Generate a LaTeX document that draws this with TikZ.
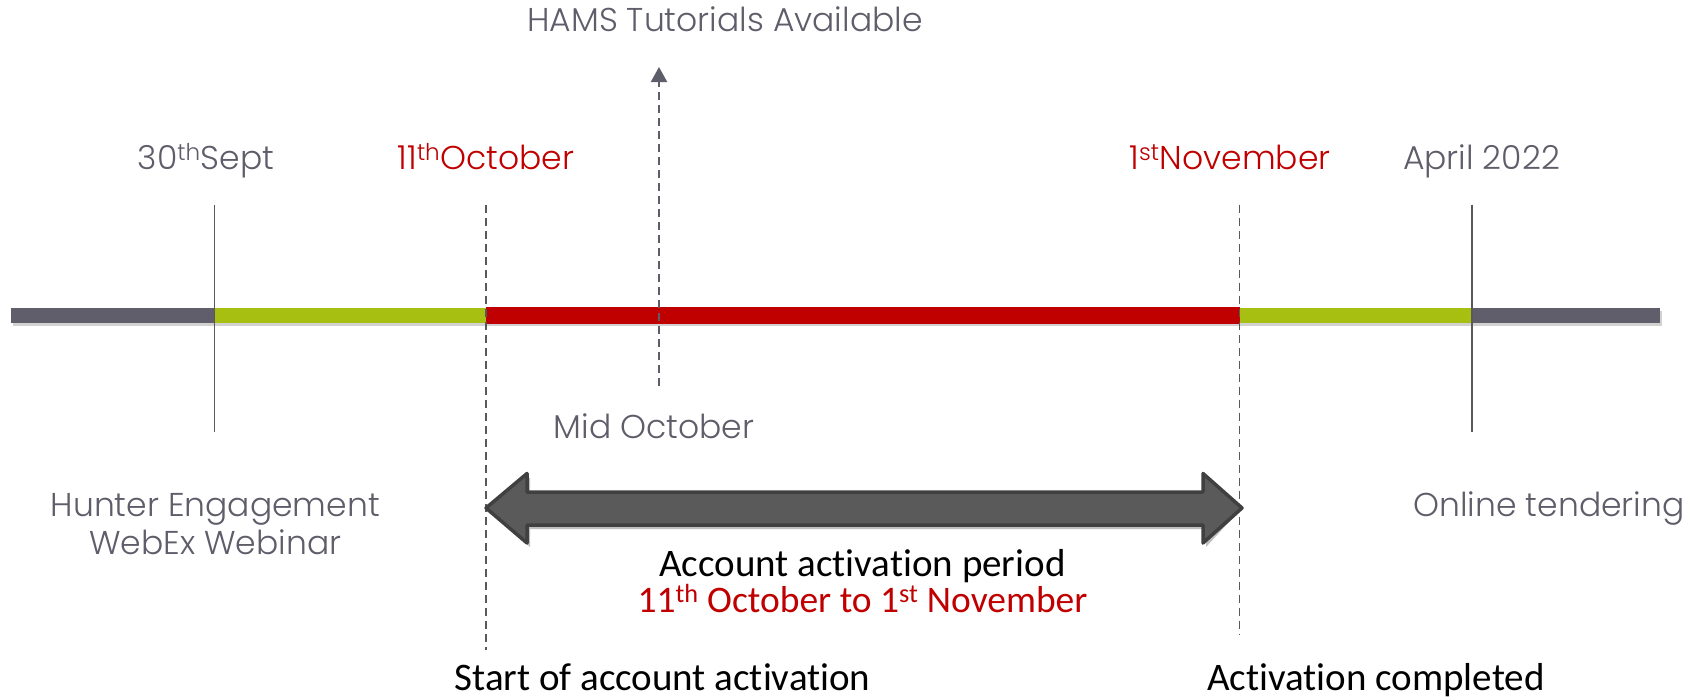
\documentclass[tikz,border=0pt]{standalone}
\usepackage{fontspec}
\setmainfont{Poppins Light}
\newfontfamily\calfont{Carlito}[Ligatures=NoCommon]
\usetikzlibrary{arrows.meta}
\definecolor{txtgrey}{HTML}{5E5D6A}
\definecolor{bargrey}{HTML}{605E6B}
\definecolor{bargreen}{HTML}{A6BF10}
\definecolor{barred}{HTML}{C00000}
\definecolor{linegrey}{HTML}{595959}
\definecolor{arrowfill}{HTML}{5A5A5A}
\definecolor{arrowdraw}{HTML}{404040}
\begin{document}
\begin{tikzpicture}[x=1pt,y=-1pt,
  lbl/.style={text=txtgrey, font=\fontsize{33}{38}\selectfont, inner sep=0pt, anchor=base},
  redlbl/.style={lbl, text=barred},
  cal/.style={font=\calfont\fontsize{39}{43}\selectfont, inner sep=0pt, anchor=base, text=black},
  seg/.style={line width=15.5pt},
  vsolid/.style={draw=linegrey, line width=1.8pt},
  vdash/.style={draw=linegrey, line width=1.8pt, dash pattern=on 8pt off 5pt},
]
\useasboundingbox (0,0) rectangle (1705,699);

% timeline points
\coordinate (b0) at (11,315.5);
\coordinate (b1) at (214.5,315.5);
\coordinate (b2) at (486,315.5);
\coordinate (b3) at (1239.5,315.5);
\coordinate (b4) at (1472,315.5);
\coordinate (b5) at (1660,315.5);

% bar shadow
\draw[line width=15.5pt, black, opacity=0.18] ([shift={(2,3)}]b0) -- ([shift={(2,3)}]b5);
% bar segments
\draw[seg, bargrey] (b0) -- (b1);
\draw[seg, bargreen] (b1) -- (b2);
\draw[seg, barred, line width=16.5pt] (b2) -- (b3);
\draw[seg, bargreen] (b3) -- (b4);
\draw[seg, bargrey] (b4) -- (b5);

% vertical markers
\coordinate (s1t) at (214.5,204.5); \coordinate (s1b) at (214.5,431.5);
\coordinate (s2t) at (1472,204.5);  \coordinate (s2b) at (1472,431.5);
\coordinate (d1t) at (486,204.5);   \coordinate (d1b) at (486,650);
\coordinate (d2t) at (1239.5,204.5);\coordinate (d2b) at (1239.5,634);
\draw[vsolid] (s1t) -- (s1b);
\draw[vsolid] (s2t) -- (s2b);
\draw[vdash] (d1t) -- (d1b);
\draw[vdash] (d2t) -- (d2b);

% mid-october arrow
\coordinate (mt) at (659,67);
\coordinate (mb) at (659,386);
\draw[vdash, draw=txtgrey, line width=2.2pt, -{Triangle[width=16pt,length=15pt]}] (mb) -- (mt);

% labels
\node[lbl] (hams) at (725,31.7) {HAMS Tutorials Available};
\node[lbl] (sept) at (206,169.6) {30\textsuperscript{th}Sept};
\node[redlbl] (oct) at (486,169.6) {11\textsuperscript{th}October};
\node[redlbl] (nov) at (1230,169.6) {1\textsuperscript{st}November};
\node[lbl] (apr) at (1481.5,169.6) {April 2022};
\node[lbl] (mid) at (654,438) {Mid October};
\node[lbl] (hunter1) at (215.3,516.7) {Hunter Engagement};
\node[lbl] (hunter2) at (215.3,554) {WebEx Webinar};
\node[lbl] (online) at (1549,516.7) {Online tendering};

% double arrow
\coordinate (aL) at (486,508);
\coordinate (aR) at (1242,508);
\fill[black, opacity=0.25, line join=round, shift={(3,4)}]
  (aL) -- (527,473.5) -- (527,492) -- (1203,492) -- (1203,473.5) -- (aR)
  -- (1203,543) -- (1203,525) -- (527,525) -- (527,543) -- cycle;
\path[draw=arrowdraw, fill=arrowfill, line width=3.5pt, line join=round]
  (aL) -- (527,473.5) -- (527,492) -- (1203,492) -- (1203,473.5) -- (aR)
  -- (1203,543) -- (1203,525) -- (527,525) -- (527,543) -- cycle;

\node[cal] (period) at (862.5,576) {Account activation period};
\node[cal, text=barred, font=\calfont\fontsize{37.5}{42}\selectfont] (dates) at (862.5,612) {11\textsuperscript{th} October to 1\textsuperscript{st} November};
\node[cal] (start) at (662.5,690) {Start of account activation};
\node[cal] (done) at (1376,690) {Activation completed};
\end{tikzpicture}
\end{document}
